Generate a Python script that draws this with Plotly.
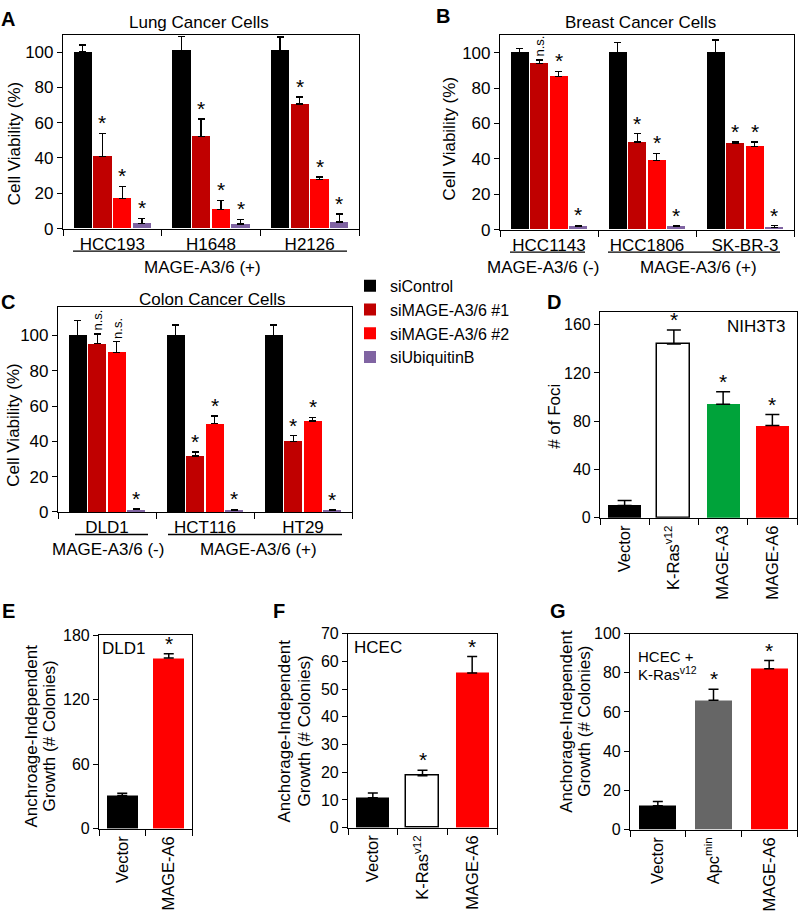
import plotly.graph_objects as go

W, H = 800, 921
FONT = "Liberation Sans, Arial, sans-serif"

# ---------------- data ----------------
series_names = ["siControl", "siMAGE-A3/6 #1", "siMAGE-A3/6 #2", "siUbiquitinB"]
series_colors = ["#000000", "#c00000", "#ff0000", "#8064a2"]

lung_cells = ["HCC193", "H1648", "H2126"]
lung_values = [[100, 101, 101], [41, 52, 70.5], [17, 11, 28], [2.8, 2.6, 3.7]]
lung_errors = [[4, 8, 7.5], [13, 10, 4], [7, 5, 1.2], [3, 2.6, 4.6]]
lung_marks = [["", "", ""], ["*", "*", "*"], ["*", "*", "*"], ["*", "*", "*"]]

breast_cells = ["HCC1143", "HCC1806", "SK-BR-3"]
breast_values = [[100, 100, 100], [94, 49.5, 49], [86.5, 39, 47], [1.8, 1.6, 1.3]]
breast_errors = [[2.6, 6, 7.2], [2, 4.7, 0.8], [3, 4.2, 2.5], [0.6, 0.6, 1]]
breast_marks = [["", "", ""], ["n.s.", "*", "*"], ["*", "*", "*"], ["*", "*", "*"]]

colon_cells = ["DLD1", "HCT116", "HT29"]
colon_values = [[100, 100, 100], [95.4, 31.7, 40], [90.4, 50, 51.5], [1.3, 1.1, 1.0]]
colon_errors = [[8.5, 6, 6], [5.5, 2.2, 3.2], [6.1, 4.4, 2.2], [0.4, 0.3, 0.3]]
colon_marks = [["", "", ""], ["n.s.", "*", "*"], ["n.s.", "*", "*"], ["*", "*", "*"]]

foci_labels = ["Vector", "K-Ras<sup>v12</sup>", "MAGE-A3", "MAGE-A6"]
foci_values = [10.3, 144, 94, 76.5]
foci_errors = [4, 11.5, 10.5, 9]
foci_colors = ["#000000", "#ffffff", "#00a33a", "#ff0000"]
foci_marks = ["", "*", "*", "*"]

dld1_labels = ["Vector", "MAGE-A6"]
dld1_values = [31, 159]
dld1_errors = [2, 4]
dld1_colors = ["#000000", "#ff0000"]
dld1_marks = ["", "*"]

hcec_labels = ["Vector", "K-Ras<sup>v12</sup>", "MAGE-A6"]
hcec_values = [10.8, 18.7, 55.8]
hcec_errors = [1.7, 2, 5.9]
hcec_colors = ["#000000", "#ffffff", "#ff0000"]
hcec_marks = ["", "*", "*"]

kras_labels = ["Vector", "Apc<sup>min</sup>", "MAGE-A6"]
kras_values = [12.2, 66, 82]
kras_errors = [2.2, 5.6, 4.2]
kras_colors = ["#000000", "#666666", "#ff0000"]
kras_marks = ["", "*", "*"]

# ---------------- helpers ----------------
def xd(a, b):
    return [a / W, b / W]

def yd(top, bottom):
    return [1 - bottom / H, 1 - top / H]

fig = go.Figure()
annotations = []
shapes = []

SLOT = 0.2
BARW = 0.185
offsets = [(i - 1.5) * SLOT for i in range(4)]

def axname(n, letter):
    return letter if n == 1 else f"{letter}{n}"

def add_grouped(n, cells, values, errors, marks, legend):
    xa, ya = axname(n, "x"), axname(n, "y")
    for i, name in enumerate(series_names):
        xs = [j + offsets[i] for j in range(len(cells))]
        fig.add_trace(go.Bar(
            x=xs, y=values[i], width=BARW, name=name,
            marker=dict(color=series_colors[i], line=dict(width=0)),
            error_y=dict(type="data", array=errors[i], arrayminus=[0] * len(cells),
                         symmetric=False, color="black", thickness=1.3, width=3.5),
            xaxis=xa, yaxis=ya, showlegend=legend, legendgroup=name,
        ))
        for j in range(len(cells)):
            m = marks[i][j]
            if not m:
                continue
            top = values[i][j] + errors[i][j]
            if m == "*":
                annotations.append(dict(x=xs[j], y=top, xref=xa, yref=ya, text="*",
                                        showarrow=False, yanchor="bottom", yshift=-3,
                                        font=dict(size=21, color="black")))
            else:
                annotations.append(dict(x=xs[j], y=top, xref=xa, yref=ya, text=m,
                                        showarrow=False, yanchor="bottom", textangle=-90,
                                        yshift=1, font=dict(size=13, color="black")))

def add_single(n, labels, values, errors, colors, marks, capw):
    xa, ya = axname(n, "x"), axname(n, "y")
    xs = list(range(len(labels)))
    fig.add_trace(go.Bar(
        x=xs, y=values, width=0.67,
        marker=dict(color=colors,
                    line=dict(color="black", width=[1.5 if c == "#ffffff" else 0 for c in colors])),
        error_y=dict(type="data", array=errors, arrayminus=[0] * len(xs), symmetric=False,
                     color="black", thickness=1.5, width=capw),
        xaxis=xa, yaxis=ya, showlegend=False,
    ))
    for j, m in enumerate(marks):
        if m:
            annotations.append(dict(x=xs[j], y=values[j] + errors[j], xref=xa, yref=ya, text="*",
                                    showarrow=False, yanchor="bottom", yshift=-3,
                                    font=dict(size=21, color="black")))

add_grouped(1, lung_cells, lung_values, lung_errors, lung_marks, True)
add_grouped(2, breast_cells, breast_values, breast_errors, breast_marks, False)
add_grouped(3, colon_cells, colon_values, colon_errors, colon_marks, False)
add_single(4, foci_labels, foci_values, foci_errors, foci_colors, foci_marks, 7)
add_single(5, dld1_labels, dld1_values, dld1_errors, dld1_colors, dld1_marks, 5)
add_single(6, hcec_labels, hcec_values, hcec_errors, hcec_colors, hcec_marks, 5)
add_single(7, kras_labels, kras_values, kras_errors, kras_colors, kras_marks, 5)

# ---------------- axes ----------------
panels = [
    # n, xdom, ydom, yrange, ytickvals, cats, angle, ytick size
    (1, xd(63, 359), yd(28, 225), [0, 109.4], list(range(0, 101, 20)), lung_cells, 0, 17),
    (2, xd(500, 794), yd(28, 226), [0, 109.8], list(range(0, 101, 20)), breast_cells, 0, 17),
    (3, xd(58, 352), yd(305, 514), [0, 116.1], list(range(0, 101, 20)), colon_cells, 0, 17),
    (4, xd(600, 797), yd(310, 520), [0, 170.5], list(range(0, 161, 40)), foci_labels, -90, 16),
    (5, xd(99, 192), yd(640, 837), [0, 180], [0, 60, 120, 180], dld1_labels, -90, 16),
    (6, xd(348, 497), yd(638, 836), [0, 70], list(range(0, 71, 10)), hcec_labels, -90, 16),
    (7, xd(630, 797), yd(638, 838), [0, 100], list(range(0, 101, 20)), kras_labels, -90, 16),
]
lay = {}
for n, xdom, ydom, yr, yt, cats, ang, ysz in panels:
    k = len(cats)
    xkey = "xaxis" if n == 1 else f"xaxis{n}"
    ykey = "yaxis" if n == 1 else f"yaxis{n}"
    lay[xkey] = dict(
        domain=xdom, range=[-0.5, k - 0.5], anchor=axname(n, "y"),
        showline=True, linecolor="black", linewidth=1.2, mirror=True,
        showgrid=False, zeroline=False, fixedrange=True,
        tickmode="array", tickvals=list(range(k)), ticktext=cats, ticks="",
        tickangle=ang, tickfont=dict(size=17 if ang == 0 else 16.5, color="black"),
        ticklabelstandoff=0,
        minor=dict(tickmode="array", tickvals=[j - 0.5 for j in range(k + 1)],
                   ticks="outside", ticklen=6, tickcolor="black", tickwidth=1),
    )
    lay[ykey] = dict(
        domain=ydom, range=yr, anchor=axname(n, "x"),
        showline=True, linecolor="black", linewidth=1.2, mirror=True,
        showgrid=False, zeroline=False, fixedrange=True,
        tickmode="array", tickvals=yt, ticks="outside", ticklen=5, tickcolor="black",
        tickfont=dict(size=ysz, color="black"),
    )

# ---------------- texts ----------------
def pa(text, x, y, size=17, bold=False, angle=0, xanchor="center", yanchor="middle"):
    annotations.append(dict(
        text=f"<b>{text}</b>" if bold else text, x=x / W, y=1 - y / H,
        xref="paper", yref="paper", showarrow=False, textangle=angle,
        xanchor=xanchor, yanchor=yanchor, font=dict(size=size, color="black")))

def hline(x0, x1, y):
    shapes.append(dict(type="line", xref="paper", yref="paper",
                       x0=x0 / W, x1=x1 / W, y0=1 - y / H, y1=1 - y / H,
                       line=dict(color="black", width=1.3)))

# panel letters
for t, x, y in [("A", 8, 11), ("B", 443, 8), ("C", 8, 300), ("D", 554, 300),
                ("E", 8, 615), ("F", 279, 615), ("G", 558, 615)]:
    pa(t, x, y, size=20, bold=True)

# titles
pa("Lung Cancer Cells", 199, 15)
pa("Breast Cancer Cells", 640, 15)
pa("Colon Cancer Cells", 212, 297)

# y-axis titles
pa("Cell Viability (%)", 14, 139, angle=-90)
pa("Cell Viability (%)", 449, 134, angle=-90)
pa("Cell Viability (%)", 14, 426, angle=-90)
pa("# of Foci", 555, 417, angle=-90)
pa("Anchroage-Independent", 31, 743, angle=-90)
pa("Growth (# Colonies)", 49, 743, angle=-90)
pa("Anchorage-Independent", 285, 738, angle=-90)
pa("Growth (# Colonies)", 305, 738, angle=-90)
pa("Anchorage-Independent", 567, 728, angle=-90)
pa("Growth (# Colonies)", 585, 728, angle=-90)

# MAGE status groupings
hline(73, 347, 248)
pa("MAGE-A3/6 (+)", 203, 265)
hline(510, 585, 249)
hline(608, 780, 249)
pa("MAGE-A3/6 (-)", 543, 265)
pa("MAGE-A3/6 (+)", 698, 265)
hline(75, 148, 537)
hline(168, 342, 537)
pa("MAGE-A3/6 (-)", 108, 552)
pa("MAGE-A3/6 (+)", 258, 552)

# in-panel labels
pa("NIH3T3", 756, 325)
pa("DLD1", 123, 653)
pa("HCEC", 378, 652)
pa("HCEC +", 636, 661, size=15, xanchor="left")
pa("K-Ras<sup>v12</sup>", 636, 679, size=15, xanchor="left")

fig.update_layout(
    width=W, height=H, margin=dict(l=0, r=0, t=0, b=0),
    paper_bgcolor="white", plot_bgcolor="white",
    font=dict(family=FONT, size=17, color="black"),
    barmode="overlay", bargap=0,
    showlegend=True,
    legend=dict(x=350 / W, y=1 - 266 / H, xanchor="left", yanchor="top",
                font=dict(size=16), itemwidth=30, tracegroupgap=0,
                bgcolor="rgba(0,0,0,0)", borderwidth=0),
    annotations=annotations, shapes=shapes,
    **lay,
)

fig.write_html(
    "out.html",
    config={"displayModeBar": False},
    post_script="document.body.style.margin='0px';document.body.style.padding='0px';"
                "document.body.style.overflow='hidden';",
)
